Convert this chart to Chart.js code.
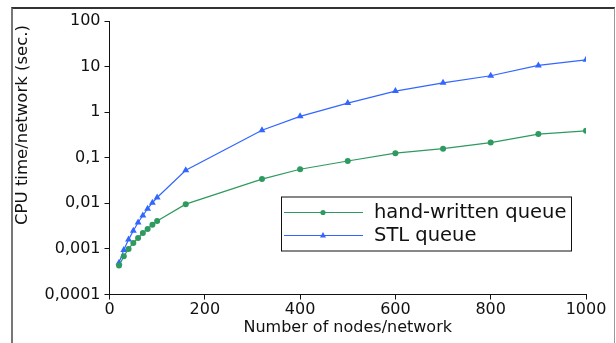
<!DOCTYPE html>
<html>
<head>
<meta charset="utf-8">
<script src="https://cdn.jsdelivr.net/npm/chart.js@4.4.0/dist/chart.umd.min.js"></script>
<style>
  html, body { margin: 0; padding: 0; background: #fff; }
  #wrap { position: relative; width: 616px; height: 343px; }
  #frame { position: absolute; left: 11px; top: 7px; width: 601px; height: 340px;
           border-top: 2px solid #333; border-left: 2px solid #777; border-right: 1px solid #999; }
  canvas { position: absolute; left: 0; top: 0; }
</style>
</head>
<body>
<div id="wrap">
  <div id="frame"></div>
  <canvas id="chart" width="616" height="343"></canvas>
</div>
<script>
const nodes = [20, 30, 40, 50, 60, 70, 80, 90, 100, 160, 320, 400, 500, 600, 700, 800, 900, 1000];
const handWritten = [0.00043, 0.00069, 0.001, 0.00135, 0.00174, 0.00224, 0.00275, 0.0034, 0.0041,
                     0.0096, 0.034, 0.056, 0.085, 0.126, 0.158, 0.215, 0.33, 0.39];
const stlQueue = [0.0005, 0.00095, 0.0016, 0.0025, 0.0038, 0.0054, 0.0076, 0.0103, 0.0134,
                  0.053, 0.40, 0.81, 1.58, 2.9, 4.4, 6.3, 10.6, 14.1];
const yTickValues = [0.0001, 0.001, 0.01, 0.1, 1, 10, 100];
const yTickLabels = ['0,0001', '0,001', '0,01', '0,1', '1', '10', '100'];
const xTickLabels = ['0', '200', '400', '600', '800', '1000'];
const seriesNames = ['hand-written queue', 'STL queue'];

const green = '#2e9a5f';
const blue = '#3366ff';
const font = 'DejaVu Sans';

// y title and the boxed legend are drawn by hand
const extras = {
  id: 'extras',
  afterDraw(chart) {
    const ctx = chart.ctx;
    const a = chart.chartArea;
    ctx.save();
    ctx.fillStyle = '#111';
    ctx.font = '16.5px "' + font + '"';
    ctx.translate(23, 125);
    ctx.rotate(-Math.PI / 2);
    ctx.textAlign = 'center';
    ctx.textBaseline = 'middle';
    ctx.fillText('CPU time/network (sec.)', 0, 0);
    ctx.restore();

    const bx = a.right - 305, by = a.bottom - 98, bw = 290, bh = 54;
    ctx.save();
    ctx.fillStyle = '#fff';
    ctx.fillRect(bx, by, bw, bh);
    ctx.strokeStyle = '#111';
    ctx.lineWidth = 1;
    ctx.strokeRect(bx + 0.5, by + 0.5, bw, bh);
    chart.data.datasets.forEach(function (ds, i) {
      const ly = by + 16 + i * 23;
      ctx.strokeStyle = ds.borderColor;
      ctx.lineWidth = 1.2;
      ctx.beginPath();
      ctx.moveTo(bx + 3, ly);
      ctx.lineTo(bx + 82, ly);
      ctx.stroke();
      ctx.fillStyle = ds.borderColor;
      ctx.beginPath();
      if (ds.pointStyle === 'triangle') {
        ctx.moveTo(bx + 42, ly - 3.5);
        ctx.lineTo(bx + 45, ly + 2);
        ctx.lineTo(bx + 39, ly + 2);
        ctx.closePath();
      } else {
        ctx.arc(bx + 42, ly, 2.6, 0, Math.PI * 2);
      }
      ctx.fill();
      ctx.fillStyle = '#111';
      ctx.font = '19.5px "' + font + '"';
      ctx.textBaseline = 'middle';
      ctx.textAlign = 'left';
      ctx.fillText(ds.label, bx + 93, ly);
    });
    ctx.restore();
  }
};

new Chart(document.getElementById('chart'), {
  type: 'line',
  data: {
    datasets: [
      {
        label: seriesNames[0],
        data: nodes.map((x, i) => ({ x: x, y: handWritten[i] })),
        borderColor: green,
        backgroundColor: green,
        borderWidth: 1.2,
        pointStyle: 'circle',
        pointRadius: 3,
        pointBorderWidth: 0,
        tension: 0
      },
      {
        label: seriesNames[1],
        data: nodes.map((x, i) => ({ x: x, y: stlQueue[i] })),
        borderColor: blue,
        backgroundColor: blue,
        borderWidth: 1.2,
        pointStyle: 'triangle',
        pointRadius: 4,
        pointBorderWidth: 0,
        tension: 0
      }
    ]
  },
  options: {
    responsive: false,
    animation: false,
    layout: { padding: { top: 21, right: 30, left: 0, bottom: 0 } },
    plugins: { legend: { display: false }, tooltip: { enabled: false } },
    scales: {
      x: {
        type: 'linear',
        min: 0,
        max: 1000,
        ticks: { stepSize: 200, color: '#111', font: { family: font, size: 16 }, padding: 1, maxRotation: 0,
                 callback: (v, i) => xTickLabels[i] },
        grid: { drawOnChartArea: false, drawTicks: true, tickLength: 5, color: '#111' },
        border: { display: true, color: '#111', width: 1 },
        title: { display: true, text: 'Number of nodes/network', color: '#111',
                 font: { family: font, size: 16 }, padding: { top: 0, bottom: 6 } },
        afterFit(scale) { scale.height = 48.5; }
      },
      y: {
        type: 'logarithmic',
        min: 0.0001,
        max: 100,
        afterBuildTicks(scale) { scale.ticks = yTickValues.map(v => ({ value: v })); },
        ticks: {
          color: '#111',
          font: { family: font, size: 16 },
          padding: 4,
          callback: (v, i) => yTickLabels[i]
        },
        grid: { drawOnChartArea: false, drawTicks: true, tickLength: 5, color: '#111' },
        border: { display: true, color: '#111', width: 1 },
        afterFit(scale) { scale.width = 109.5; }
      }
    }
  },
  plugins: [extras]
});
</script>
</body>
</html>
